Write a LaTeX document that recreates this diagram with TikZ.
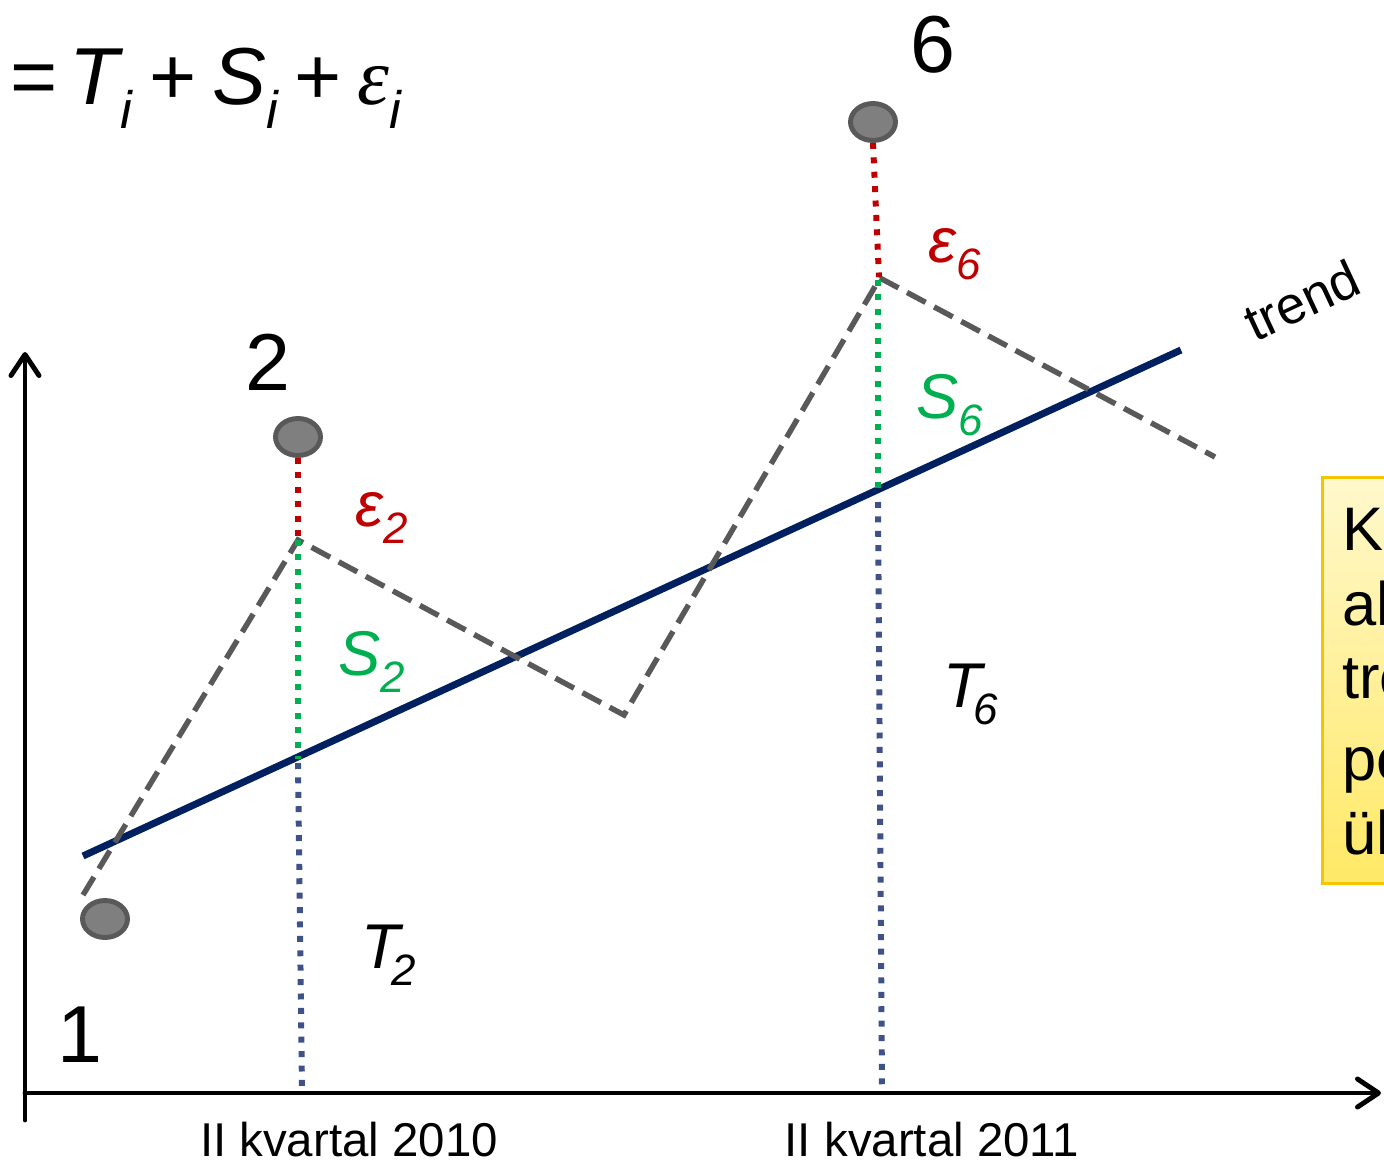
\documentclass[tikz,border=0pt]{standalone}
\usepackage{fontspec}
\setmainfont{Liberation Sans}
\newfontfamily\serifgr{Liberation Serif}
\usetikzlibrary{arrows.meta,shapes.geometric}
\definecolor{navy}{HTML}{002060}
\definecolor{zgray}{HTML}{595959}
\definecolor{ptfill}{HTML}{7F7F7F}
\definecolor{ered}{HTML}{C00000}
\definecolor{sgreen}{HTML}{00B050}
\definecolor{tblue}{HTML}{3F5189}
\definecolor{boxtop}{HTML}{FFF8CC}
\definecolor{boxbot}{HTML}{FFE966}
\definecolor{boxedge}{HTML}{F5C400}
\newcommand\sublab[3][0em]{\textit{#2}\kern#1\raisebox{-0.27em}{\fontsize{25}{25}\selectfont\textit{#3}}}
\newcommand\fsub[1]{\raisebox{-0.3em}{\fontsize{30}{30}\selectfont\textit{#1}}}
\begin{document}
\begin{tikzpicture}[x=0.02cm,y=-0.02cm,
  axisline/.style={line width=2.8pt, line cap=round, -{Straight Barb[length=12pt,width=16pt,line cap=round,line join=round]}},
  trendline/.style={navy, line width=4pt},
  zig/.style={zgray, line width=3.1pt, dash pattern=on 12pt off 5.5pt},
  dots/.style={line width=3.4pt, dash pattern=on 3.4pt off 4.8pt},
  pt/.style={ellipse, draw=zgray, fill=ptfill, line width=2.8pt, minimum width=0.9cm, minimum height=0.74cm, inner sep=0pt},
  bignum/.style={font=\fontsize{46}{46}\selectfont, inner sep=0pt},
  lab/.style={font=\fontsize{36}{36}\selectfont, inner sep=0pt, anchor=base west},
  axlab/.style={font=\fontsize{27}{27}\selectfont, inner sep=0pt, anchor=base},
  boxtxt/.style={font=\fontsize{35}{35}\selectfont, inner sep=0pt, anchor=base west}]
\useasboundingbox (0,0) rectangle (1384,1160);
\clip (0,0) rectangle (1384,1160);

% yellow box
\node[draw=boxedge, line width=1.7pt, top color=boxtop, bottom color=boxbot,
      minimum width=2cm, minimum height=8.12cm, anchor=north west, inner sep=0pt] (box) at (1321,476) {};
\node[boxtxt] (b1) at (1342,550) {Ko};
\node[boxtxt] (b2) at (1342,625) {al};
\node[boxtxt] (b3) at (1342,698) {tre};
\node[boxtxt] (b4) at (1342,780) {pe};
\node[boxtxt] (b5) at (1342,854) {ül};

% axes
\coordinate (o) at (25,1093);
\coordinate (ybot) at (25,1120);
\coordinate (ytop) at (25,352);
\coordinate (xend) at (1381,1093);
\draw[axisline] (ybot) -- (ytop);
\draw[axisline] (o) -- (xend);

% trend line
\coordinate (t0) at (83,856);
\coordinate (t1) at (1181,350);
\draw[trendline] (t0) -- (t1);

% zigzag
\coordinate (z1) at (83,895);
\coordinate (z2) at (298,540);
\coordinate (z3) at (624,715);
\coordinate (z4) at (880,278);
\coordinate (z5) at (1215,457);
\draw[zig] (z1) -- (z2) -- (z3) -- (z4) -- (z5);

% points
\node[pt] (p1) at (105,919) {};
\node[pt] (p2) at (298,437) {};
\node[pt] (p6) at (873,122) {};

% vertical dotted components (period 2)
\coordinate (s2) at (298,540);
\coordinate (tr2) at (298,759);
\coordinate (tr2b) at (298,763);
\coordinate (x2) at (302,1090);
\draw[dots, ered] (p2.south) -- (s2);
\draw[dots, sgreen] (s2) -- (tr2);
\draw[dots, tblue] (tr2b) -- (x2);

% period 6
\coordinate (e6) at (879,277);
\coordinate (s6) at (878,280);
\coordinate (tr6) at (878,496);
\coordinate (tr6b) at (878,502);
\coordinate (x6) at (882,1088);
\draw[dots, ered] (p6.south) -- (e6);
\draw[dots, sgreen] (s6) -- (tr6);
\draw[dots, tblue] (tr6b) -- (x6);

% labels
\node[lab, ered] (le2) at (355,526) {\sublab{ε}{2}};
\node[lab, sgreen] (ls2) at (338,675) {\sublab{S}{2}};
\node[lab] (lt2) at (361,968) {\sublab[-0.2em]{T}{2}};
\node[lab, ered] (le6) at (928,262) {\sublab{ε}{6}};
\node[lab, sgreen] (ls6) at (916,418) {\sublab{S}{6}};
\node[lab] (lt6) at (943,707) {\sublab[-0.2em]{T}{6}};

\node[bignum] (n2) at (268,362) {2};
\node[bignum] (n6) at (933,45) {6};
\node[bignum] (n1) at (80,1035) {1};

\node[font=\fontsize{30}{30}\selectfont, rotate=25, inner sep=0pt] (trendlab) at (1302,300) {trend};

\node[axlab] (q2010) at (349,1156) {II kvartal 2010};
\node[axlab] (q2011) at (932,1156) {II kvartal 2011};

% formula
\node[font=\fontsize{46}{46}\selectfont, inner sep=0pt, anchor=base west] (formula) at (10,104)
  {=\hspace{7pt}\textit{T}\kern-2pt\fsub{i}\hspace{9pt}+\hspace{9pt}\textit{S}\fsub{i}\hspace{9pt}+\hspace{9pt}{\serifgr\itshape ε}\fsub{i}};
\end{tikzpicture}
\end{document}
